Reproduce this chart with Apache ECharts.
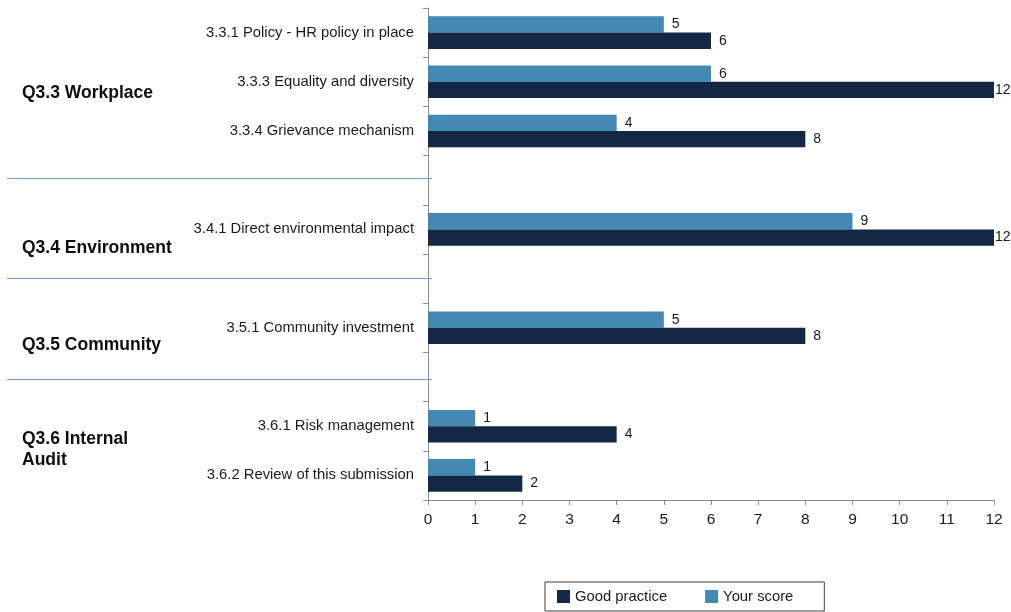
<!DOCTYPE html>
<html>
<head>
<meta charset="utf-8">
<script src="https://cdn.jsdelivr.net/npm/echarts@6/dist/echarts.min.js"></script>
<style>
html,body{margin:0;padding:0;background:#fff;}
#chart{width:1011px;height:612px;}
</style>
</head>
<body>
<div id="chart"></div>
<script>
// ---- data ----
const categories = [
  '3.3.1 Policy - HR policy in place',
  '3.3.3 Equality and diversity',
  '3.3.4 Grievance mechanism',
  ' ',
  '3.4.1 Direct environmental impact',
  '  ',
  '3.5.1 Community investment',
  '   ',
  '3.6.1 Risk management',
  '3.6.2 Review of this submission'
];
const yourScore    = [5, 6, 4, null, 9, null, 5, null, 1, 1];
const goodPractice = [6, 12, 8, null, 12, null, 8, null, 4, 2];
const xTicks = [0,1,2,3,4,5,6,7,8,9,10,11,12];
const groupNames = ['Q3.3 Workplace', 'Q3.4 Environment', 'Q3.5 Community', 'Q3.6 Internal\nAudit'];

const FONT = '"Liberation Sans", Arial, sans-serif';
const X_MAX = xTicks[xTicks.length - 1];

function toItems(arr){
  return arr.map(v => v == null ? null : {
    value: v,
    label: { distance: v >= X_MAX ? 1 : 8 }
  });
}

const chart = echarts.init(document.getElementById('chart'), null, {renderer:'canvas'});

chart.setOption({
  animation: false,
  textStyle: { fontFamily: FONT },
  grid: { left: 428, right: 17, top: 8, bottom: 112, containLabel: false },
  legend: {
    data: ['Good practice', 'Your score'],
    left: 545, top: 582,
    orient: 'horizontal',
    icon: 'rect',
    itemWidth: 13, itemHeight: 13,
    itemGap: 38,
    padding: [7, 31, 7, 12],
    borderColor: '#404040', borderWidth: 1,
    textStyle: { fontFamily: FONT, fontSize: 14.8, color: '#1a1a1a' }
  },
  xAxis: {
    type: 'value',
    min: xTicks[0], max: X_MAX, interval: 1,
    splitLine: { show: false },
    axisLine: { show: true, lineStyle: { color: '#8c8c8c', width: 1 } },
    axisTick: { show: true, length: 5, lineStyle: { color: '#8c8c8c' } },
    axisLabel: { fontFamily: FONT, fontSize: 15.5, color: '#1a1a1a', margin: 12 }
  },
  yAxis: {
    type: 'category',
    data: categories,
    inverse: true,
    axisLine: { show: true, lineStyle: { color: '#8c8c8c', width: 1 } },
    axisTick: { show: true, length: 5, lineStyle: { color: '#8c8c8c' } },
    axisLabel: { fontFamily: FONT, fontSize: 14.8, color: '#1a1a1a', margin: 14, interval: 0 }
  },
  series: [
    {
      name: 'Your score',
      type: 'bar',
      data: toItems(yourScore),
      barWidth: 16.3,
      barGap: '0%',
      itemStyle: { color: '#4389B3' },
      label: { show: true, position: 'right', fontFamily: FONT, fontSize: 14, color: '#1a1a1a' }
    },
    {
      name: 'Good practice',
      type: 'bar',
      data: toItems(goodPractice),
      barWidth: 16.3,
      barGap: '0%',
      itemStyle: { color: '#132845' },
      label: { show: true, position: 'right', fontFamily: FONT, fontSize: 14, color: '#1a1a1a' }
    }
  ]
});

// separators between question groups and group labels (layout annotations)
const separatorY = [178.5, 278.5, 379.5];
const groupY = [93, 248, 345, 449.5];
const graphics = [];
separatorY.forEach(y => {
  graphics.push({
    type: 'line',
    shape: { x1: 7, y1: y, x2: 432, y2: y },
    style: { stroke: '#6F9BD1', lineWidth: 1 },
    silent: true,
    z: 10
  });
});
groupNames.forEach((name, i) => {
  graphics.push({
    type: 'text',
    left: 22,
    top: groupY[i] - (name.indexOf('\n') >= 0 ? 21 : 10.5),
    style: {
      text: name,
      fontFamily: FONT,
      fontSize: 17.5,
      fontWeight: 'bold',
      fill: '#0d0d0d',
      lineHeight: 21
    },
    silent: true
  });
});
chart.setOption({ graphic: graphics });
</script>
</body>
</html>
